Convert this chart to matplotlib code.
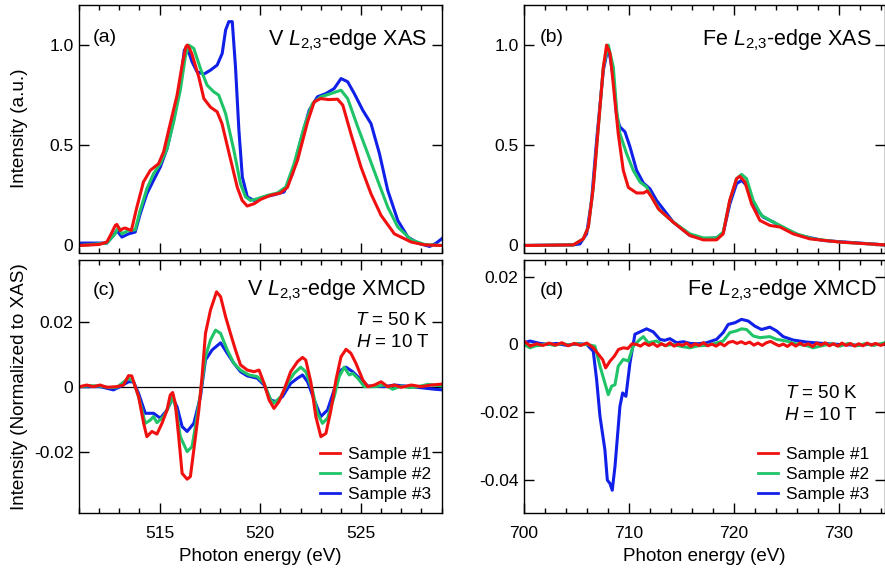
import numpy as np
import matplotlib
matplotlib.use("Agg")
import matplotlib.pyplot as plt
from matplotlib.ticker import MultipleLocator

plt.rcParams['font.family'] = ['Liberation Sans', 'DejaVu Sans']
plt.rcParams['mathtext.fontset'] = 'custom'
plt.rcParams['mathtext.rm'] = 'Liberation Sans'
plt.rcParams['mathtext.it'] = 'Liberation Sans:italic'
plt.rcParams['axes.unicode_minus'] = False

RED = '#f01010'
GREEN = '#20c468'
BLUE = '#1020e8'
labels = ['Sample #1', 'Sample #2', 'Sample #3']

# ---- (a) V L2,3 XAS ----
va_red_e = [511.0, 512.0, 512.38, 512.6, 512.8, 512.88, 512.96, 513.04, 513.2, 513.3, 513.6, 513.87,
            514.2, 514.54, 514.95, 515.2, 515.53, 515.87, 516.12, 516.3, 516.37, 516.45, 516.6, 516.95,
            517.2, 517.53, 517.86, 518.1, 518.5, 518.86, 519.1, 519.35, 519.69, 520.02, 520.5, 521.0,
            521.35, 521.85, 522.35, 522.68, 523.0, 523.4, 523.84, 524.1, 524.5, 525.0, 525.5, 526.0,
            526.66, 527.5, 528.16, 529.0]
va_red_y = [0.0, 0.005, 0.017, 0.058, 0.1, 0.105, 0.09, 0.075, 0.085, 0.087, 0.075, 0.19,
            0.317, 0.375, 0.408, 0.467, 0.608, 0.75, 0.90, 0.99, 1.0, 0.99, 0.958, 0.84,
            0.733, 0.69, 0.667, 0.608, 0.44, 0.29, 0.225, 0.197, 0.208, 0.23, 0.25, 0.262,
            0.29, 0.425, 0.617, 0.717, 0.733, 0.728, 0.73, 0.70, 0.558, 0.392, 0.258, 0.15,
            0.058, 0.017, 0.003, 0.0]
va_green_e = [511.05, 512.38, 512.79, 512.96, 513.13, 513.46, 513.79, 514.04, 514.37, 514.7, 515.04,
              515.37, 515.7, 516.03, 516.28, 516.45, 516.7, 517.03, 517.36, 517.69, 517.94, 518.28,
              518.69, 519.02, 519.27, 519.52, 519.85, 520.35, 520.85, 521.27, 521.68, 522.18, 522.59,
              523.01, 523.51, 524.01, 524.34, 524.84, 525.34, 525.83, 526.33, 526.83, 527.5, 528.16,
              529.07]
va_green_y = [0.0, 0.012, 0.058, 0.092, 0.058, 0.075, 0.078, 0.175, 0.283, 0.358, 0.408,
              0.483, 0.617, 0.775, 0.942, 1.0, 0.983, 0.883, 0.80, 0.767, 0.75, 0.658,
              0.475, 0.308, 0.242, 0.225, 0.233, 0.25, 0.262, 0.292, 0.408, 0.592, 0.708,
              0.742, 0.758, 0.775, 0.733, 0.592, 0.458, 0.325, 0.192, 0.092, 0.028, 0.005,
              0.0]
va_blue_e = [511.05, 512.38, 512.71, 512.88, 513.13, 513.46, 513.79, 514.04, 514.37, 514.7, 515.04,
             515.37, 515.7, 516.03, 516.23, 516.37, 516.61, 516.86, 517.2, 517.53, 517.86, 518.11,
             518.28, 518.44, 518.61, 518.77, 518.94, 519.11, 519.36, 519.69, 520.19, 520.68, 521.18,
             521.6, 522.01, 522.43, 522.84, 523.26, 523.67, 524.01, 524.34, 524.67, 525.09, 525.5,
             525.92, 526.33, 526.83, 527.33, 527.83, 528.41, 528.74, 529.07]
va_blue_y = [0.012, 0.012, 0.05, 0.075, 0.042, 0.058, 0.067, 0.158, 0.258, 0.325, 0.392,
             0.483, 0.625, 0.808, 0.975, 0.99, 0.917, 0.867, 0.855, 0.875, 0.90, 0.958,
             1.075, 1.117, 1.117, 0.892, 0.575, 0.342, 0.242, 0.225, 0.242, 0.253, 0.267,
             0.358, 0.525, 0.675, 0.742, 0.758, 0.783, 0.833, 0.817, 0.758, 0.675, 0.608,
             0.458, 0.275, 0.125, 0.042, 0.012, -0.005, 0.012, 0.038]

# ---- (b) Fe L2,3 XAS ----
fa_red_e = [700.0, 704.7, 705.65, 706.13, 706.6, 707.08, 707.56, 707.87, 708.2, 708.5, 708.98, 709.46,
            709.94, 710.73, 711.37, 711.75, 712.16, 712.8, 714.2, 715.8, 717.08, 718.35, 718.98,
            719.6, 720.25, 720.57, 721.05, 721.68, 722.48, 723.43, 724.4, 725.65, 727.24, 730.1, 734.4]
fa_red_y = [0.0, 0.003, 0.033, 0.092, 0.29, 0.59, 0.89, 1.0, 0.958, 0.808, 0.558, 0.375,
            0.29, 0.262, 0.262, 0.272, 0.242, 0.183, 0.117, 0.05, 0.028, 0.028, 0.058,
            0.225, 0.333, 0.345, 0.317, 0.208, 0.125, 0.1, 0.092, 0.058, 0.033, 0.017, 0.003]
fa_green_e = [700.0, 704.7, 705.65, 706.13, 706.6, 707.08, 707.56, 708.03, 708.51, 708.83, 709.14,
              709.78, 710.41, 711.05, 711.68, 712.16, 712.95, 714.22, 715.81, 717.08, 718.35, 718.98,
              719.62, 720.25, 720.73, 721.21, 721.84, 722.63, 723.75, 724.7, 725.97, 727.56, 730.1,
              734.4]
fa_green_y = [0.0, 0.003, 0.033, 0.092, 0.29, 0.59, 0.89, 1.0, 0.89, 0.675, 0.558,
              0.458, 0.375, 0.317, 0.292, 0.242, 0.175, 0.117, 0.058, 0.038, 0.038, 0.067,
              0.225, 0.333, 0.355, 0.333, 0.225, 0.15, 0.117, 0.092, 0.058, 0.033, 0.017,
              0.003]
fa_blue_e = [700.0, 704.7, 705.33, 705.97, 706.44, 706.92, 707.56, 708.03, 708.51, 708.83, 709.14,
             709.62, 710.1, 710.73, 711.37, 712.0, 712.63, 714.22, 715.81, 717.08, 718.35, 718.98,
             719.62, 720.25, 720.73, 721.21, 722.0, 722.79, 723.75, 725.02, 726.29, 728.51, 734.4]
fa_blue_y = [0.0, 0.003, 0.008, 0.058, 0.225, 0.525, 0.875, 0.992, 0.842, 0.642, 0.592,
             0.567, 0.492, 0.375, 0.312, 0.283, 0.225, 0.117, 0.05, 0.033, 0.038, 0.062,
             0.208, 0.308, 0.325, 0.30, 0.192, 0.142, 0.117, 0.078, 0.05, 0.025, 0.003]

# ---- (c) V L2,3 XMCD ----
vm_red_e = [511.05, 511.38, 511.71, 512.05, 512.38, 512.88, 513.21, 513.46, 513.62, 513.71, 513.96,
            514.21, 514.37, 514.62, 514.87, 515.12, 515.37, 515.53, 515.65, 515.78, 515.95, 516.12,
            516.37, 516.53, 516.7, 516.95, 517.11, 517.28, 517.53, 517.83, 518.03, 518.28, 518.52,
            518.77, 519.02, 519.36, 519.69, 519.94, 520.19, 520.44, 520.68, 520.93, 521.18, 521.51,
            521.85, 522.1, 522.26, 522.51, 522.76, 523.01, 523.26, 523.51, 523.76, 524.01, 524.26,
            524.5, 524.75, 525.09, 525.34, 525.67, 526.0, 526.33, 526.66, 527.0, 527.5, 527.99,
            528.49, 529.07]
vm_red_y = [0.0, 0.0005, 0.0, 0.0005, -0.0002, 0.0, 0.0005, 0.0034, 0.0033, 0.0015, -0.0031,
            -0.0113, -0.0154, -0.0138, -0.0146, -0.0113, -0.0072, -0.0026, -0.0018, -0.0051, -0.0154, -0.0267,
            -0.0285, -0.0277, -0.0195, -0.0072, 0.0031, 0.0164, 0.0236, 0.0292, 0.0277, 0.0215, 0.0164,
            0.0113, 0.0067, 0.0051, 0.0046, 0.0051, 0.001, -0.0041, -0.0067, -0.0046, -0.001, 0.0046,
            0.0077, 0.009, 0.0082, 0.0015, -0.0092, -0.0154, -0.0144, -0.0072, 0.0021, 0.0092, 0.0115,
            0.0103, 0.0072, 0.0021, 0.0, 0.0005, 0.0015, 0.0, 0.0005, -0.0002, 0.0005, 0.0,
            0.0005, 0.0008]
vm_green_e = [511.05, 511.5, 512.05, 512.5, 512.88, 513.46, 513.71, 513.96, 514.29, 514.54, 514.7,
              514.87, 515.2, 515.45, 515.65, 515.83, 516.03, 516.37, 516.61, 516.78, 517.03, 517.28,
              517.53, 517.78, 518.03, 518.36, 518.69, 519.02, 519.44, 519.85, 520.19, 520.52, 520.68,
              521.02, 521.35, 521.68, 522.01, 522.26, 522.59, 522.84, 523.09, 523.34, 523.67, 523.92,
              524.17, 524.42, 524.59, 524.84, 525.17, 525.67, 526.17, 526.58, 527.0, 527.4, 527.83,
              528.33, 529.07]
vm_green_y = [0.0, 0.0003, 0.0002, -0.0003, -0.0002, 0.0026, 0.0015, -0.0031, -0.0113, -0.0103, -0.0092,
              -0.0111, -0.0092, -0.0062, -0.0031, -0.0072, -0.0154, -0.02, -0.0185, -0.0123, -0.0021, 0.0092,
              0.0144, 0.0174, 0.0164, 0.0113, 0.0072, 0.0051, 0.0036, 0.0031, 0.001, -0.0041, -0.0051,
              -0.0031, 0.001, 0.0041, 0.006, 0.0046, -0.001, -0.0082, -0.0113, -0.0097, -0.0031, 0.0031,
              0.006, 0.0036, 0.0041, 0.0026, 0.0, 0.0, 0.0005, -0.0008, 0.0002, -0.0003, 0.0,
              0.0007, 0.0002]
vm_blue_e = [511.05, 512.05, 512.71, 513.04, 513.46, 513.71, 513.96, 514.29, 514.7, 515.04, 515.37,
             515.65, 515.87, 516.12, 516.37, 516.7, 517.03, 517.28, 517.61, 518.03, 518.36, 518.69,
             519.02, 519.36, 519.85, 520.19, 520.52, 520.77, 521.1, 521.51, 521.85, 522.1, 522.35,
             522.68, 523.01, 523.34, 523.67, 524.01, 524.26, 524.59, 524.92, 525.34, 526.17, 526.66,
             527.5, 528.66, 529.07]
vm_blue_y = [0.0, 0.0, -0.001, 0.0, 0.0015, 0.0015, -0.0021, -0.0082, -0.0082, -0.0097, -0.0072,
             -0.0036, -0.0062, -0.0123, -0.0138, -0.0113, -0.0031, 0.0082, 0.0113, 0.0135, 0.0103, 0.0072,
             0.0046, 0.0033, 0.0026, 0.0005, -0.0041, -0.0046, -0.0031, 0.001, 0.0026, 0.0036, 0.0015,
             -0.0041, -0.0092, -0.0072, -0.001, 0.0051, 0.006, 0.0046, 0.0026, 0.0002, 0.0, 0.0005,
             0.0, -0.0008, -0.001]

# ---- (d) Fe L2,3 XMCD ----
fm_red_e = [700.0, 700.6, 701.2, 701.8, 702.4, 703.0, 703.6, 704.2, 704.8, 705.4, 706.0, 706.6,
            707.24, 707.5, 707.78, 708.2, 708.6, 709.0, 709.46, 709.9, 710.3, 710.73, 711.1, 711.5,
            711.9, 712.3, 712.7, 713.1, 713.5, 713.9, 714.3, 714.7, 715.1, 715.5, 715.9, 716.3,
            716.7, 717.1, 717.5, 717.9, 718.3, 718.7, 719.1, 719.5, 719.9, 720.3, 720.7, 721.1,
            721.5, 721.9, 722.3, 722.7, 723.1, 723.5, 723.9, 724.3, 724.7, 725.1, 725.5, 725.9,
            726.3, 726.7, 727.1, 727.5, 727.9, 728.3, 728.7, 729.1, 729.5, 729.9, 730.3, 730.7,
            731.1, 731.5, 731.9, 732.3, 732.7, 733.1, 733.5, 734.0, 734.4]
fm_red_y = [0.001, -0.0005, 0.0002, -0.0003, 0.0004, -0.0002, 0.0005, -0.0004, 0.0003, -0.0003, 0.0004, -0.001,
            -0.0035, -0.0045, -0.0069, -0.0049, -0.0035, -0.0015, -0.001, -0.0012, 0.0002, 0.0, -0.0005, 0.0004,
            -0.0003, 0.0003, -0.0006, 0.0002, -0.0004, 0.0005, -0.0005, 0.0001, -0.0003, 0.0004, -0.0006, 0.0002,
            -0.0003, 0.0005, -0.0004, 0.0001, -0.0005, 0.0003, -0.0004, 0.0006, 0.0009, 0.0003, 0.0008, 0.0002,
            0.0007, -0.0002, 0.0004, -0.0003, 0.0005, 0.0009, 0.0002, -0.0004, 0.0001, -0.0006, 0.0003, -0.0005,
            0.0004, -0.0003, 0.0002, -0.0006, 0.0004, -0.0002, 0.0005, -0.0004, 0.0002, -0.0005, 0.0004, -0.0003,
            0.0003, -0.0005, 0.0002, -0.0004, 0.0004, -0.0002, 0.0003, -0.0003, 0.0002]
fm_green_e = [700.0, 700.57, 701.1, 701.52, 702.2, 702.9, 703.6, 704.3, 705.0, 705.5, 705.97, 706.76,
              707.24, 707.71, 708.03, 708.35, 708.67, 708.98, 709.46, 709.94, 710.41, 711.05, 711.37,
              711.84, 712.63, 713.4, 714.22, 715.0, 715.81, 716.6, 717.4, 718.2, 718.98, 719.62,
              720.25, 720.73, 721.21, 721.84, 722.48, 723.43, 724.06, 725.02, 725.6, 726.29, 727.0,
              727.56, 728.51, 729.3, 730.1, 730.9, 731.7, 732.5, 733.3, 734.38]
fm_green_y = [0.0, -0.001, -0.0004, -0.0003, 0.0002, -0.0003, 0.0003, -0.0002, 0.0003, -0.0001, 0.0, -0.0005,
              -0.0064, -0.0114, -0.0148, -0.0123, -0.0119, -0.0064, -0.0044, -0.0049, -0.0005, 0.0015, 0.0023,
              0.0005, 0.001, -0.0003, 0.0, -0.0006, -0.001, -0.0004, -0.0003, 0.0003, 0.001, 0.0035,
              0.004, 0.0046, 0.0044, 0.0025, 0.002, 0.0023, 0.0015, 0.001, 0.0004, 0.0, -0.0004,
              -0.001, -0.0003, 0.0002, -0.0005, 0.0003, -0.0004, 0.0002, -0.0003, 0.0005]
fm_blue_e = [700.0, 700.57, 701.52, 702.3, 703.1, 703.9, 704.7, 705.3, 705.97, 706.6, 706.92, 707.24,
             707.71, 707.94, 708.19, 708.41, 708.67, 709.14, 709.4, 709.71, 710.1, 710.57, 711.05,
             711.68, 712.32, 712.95, 713.4, 713.9, 714.54, 715.2, 715.81, 716.6, 717.4, 718.35,
             718.98, 719.46, 720.1, 720.73, 721.37, 722.0, 722.63, 723.43, 724.06, 724.7, 725.65,
             726.92, 728.51, 730.0, 731.5, 733.0, 734.38]
fm_blue_y = [0.0005, 0.001, 0.0003, 0.0, 0.0003, -0.0002, 0.0, 0.0002, 0.0, -0.002, -0.0104, -0.0212,
             -0.0311, -0.04, -0.041, -0.043, -0.036, -0.0183, -0.0143, -0.0153, -0.0054, 0.003, 0.0037,
             0.0046, 0.0037, 0.0015, 0.0012, 0.0017, 0.0005, 0.0008, 0.0003, 0.0002, 0.0005, 0.0015,
             0.0035, 0.0059, 0.0064, 0.0074, 0.0069, 0.0054, 0.0044, 0.0051, 0.004, 0.0023, 0.0013,
             0.0007, 0.0003, 0.0, -0.0002, 0.0, 0.0]

W, H = 885, 572
fig = plt.figure(figsize=(W / 100, H / 100), dpi=100)


def box(x0, y0, x1, y1):
    # pixel box -> figure fraction
    return [x0 / W, 1 - y1 / H, (x1 - x0) / W, (y1 - y0) / H]


ax_a = fig.add_axes(box(79, 5, 441.5, 252.5))
ax_b = fig.add_axes(box(524, 5, 885, 252.5))
ax_c = fig.add_axes(box(79, 260, 441.5, 513.3))
ax_d = fig.add_axes(box(524, 260, 885, 513.3))

lw = 2.2
for ax, (re, ry, ge, gy, be, by) in [
    (ax_a, (va_red_e, va_red_y, va_green_e, va_green_y, va_blue_e, va_blue_y)),
    (ax_b, (fa_red_e, fa_red_y, fa_green_e, fa_green_y, fa_blue_e, fa_blue_y)),
    (ax_c, (vm_red_e, vm_red_y, vm_green_e, vm_green_y, vm_blue_e, vm_blue_y)),
    (ax_d, (fm_red_e, fm_red_y, fm_green_e, fm_green_y, fm_blue_e, fm_blue_y)),
]:
    lb, = ax.plot(be, by, color=BLUE, lw=lw, label=labels[2])
    lg, = ax.plot(ge, gy, color=GREEN, lw=lw, label=labels[1])
    lr, = ax.plot(re, ry, color=RED, lw=lw, label=labels[0])
    ax.handles = [lr, lg, lb]

ax_c.axhline(0, color='black', lw=0.9, zorder=0)

for ax in (ax_a, ax_c):
    ax.set_xlim(511, 529)
    ax.xaxis.set_major_locator(MultipleLocator(5))
    ax.xaxis.set_minor_locator(MultipleLocator(1))
for ax in (ax_b, ax_d):
    ax.set_xlim(700, 734.4)
    ax.xaxis.set_major_locator(MultipleLocator(10))
    ax.xaxis.set_minor_locator(MultipleLocator(2))

for ax in (ax_a, ax_b):
    ax.set_ylim(-0.035, 1.2)
    ax.set_yticks([0, 0.5, 1.0])
    ax.set_yticklabels(['0', '0.5', '1.0'])
    ax.tick_params(axis='x', labelbottom=False)

ax_c.set_ylim(-0.039, 0.039)
ax_c.set_yticks([-0.02, 0, 0.02])
ax_c.set_yticklabels(['-0.02', '0', '0.02'])
ax_d.set_ylim(-0.0498, 0.0249)
ax_d.set_yticks([-0.04, -0.02, 0, 0.02])
ax_d.set_yticklabels(['-0.04', '-0.02', '0', '0.02'])

for ax in (ax_a, ax_b, ax_c, ax_d):
    ax.tick_params(which='both', direction='in', top=True, right=True, labelsize=12.6)
    ax.tick_params(axis='y', pad=4)
    ax.tick_params(axis='x', pad=9)
    ax.tick_params(which='major', length=7, width=1)
    ax.tick_params(which='minor', length=3.5, width=1)
    for s in ax.spines.values():
        s.set_linewidth(1)

ax_a.set_ylabel('Intensity (a.u.)', fontsize=13.6)
ax_c.set_ylabel('Intensity (Normalized to XAS)', fontsize=13.6)
ax_a.yaxis.set_label_coords(-0.141, 0.5)
ax_c.yaxis.set_label_coords(-0.141, 0.5)
for ax in (ax_c, ax_d):
    ax.set_xlabel('Photon energy (eV)', fontsize=13.5, labelpad=5)

sub = r'$\mathit{L}_{\mathit{2{,}3}}$'
fs_t = 15.5
ax_a.text(0.039, 0.85, '(a)', transform=ax_a.transAxes, fontsize=14)
ax_a.text(0.96, 0.838, 'V ' + sub + '-edge XAS', transform=ax_a.transAxes,
          fontsize=fs_t, ha='right')
ax_b.text(0.044, 0.85, '(b)', transform=ax_b.transAxes, fontsize=14)
ax_b.text(0.964, 0.838, 'Fe ' + sub + '-edge XAS', transform=ax_b.transAxes,
          fontsize=fs_t, ha='right')
ax_c.text(0.038, 0.862, '(c)', transform=ax_c.transAxes, fontsize=14)
ax_c.text(0.958, 0.86, 'V ' + sub + '-edge XMCD', transform=ax_c.transAxes,
          fontsize=fs_t, ha='right')
ax_c.text(0.962, 0.743, r'$\mathit{T}$ = 50 K', transform=ax_c.transAxes, fontsize=13.5, ha='right')
ax_c.text(0.968, 0.658, r'$\mathit{H}$ = 10 T', transform=ax_c.transAxes, fontsize=13.5, ha='right')
ax_d.text(0.044, 0.862, '(d)', transform=ax_d.transAxes, fontsize=14)
ax_d.text(0.977, 0.86, 'Fe ' + sub + '-edge XMCD', transform=ax_d.transAxes,
          fontsize=fs_t, ha='right')
ax_d.text(0.926, 0.454, r'$\mathit{T}$ = 50 K', transform=ax_d.transAxes, fontsize=13.5, ha='right')
ax_d.text(0.926, 0.368, r'$\mathit{H}$ = 10 T', transform=ax_d.transAxes, fontsize=13.5, ha='right')

for ax, anchor in ((ax_c, (0.972, 0.045)), (ax_d, (0.955, 0.045))):
    ax.legend(handles=ax.handles, loc='lower right', bbox_to_anchor=anchor, frameon=False,
              fontsize=12.5, handlelength=1.15, handletextpad=0.45, labelspacing=0.28,
              borderpad=0, borderaxespad=0)
    for line in ax.get_legend().get_lines():
        line.set_linewidth(2)

fig.savefig('out.png', dpi=100)
